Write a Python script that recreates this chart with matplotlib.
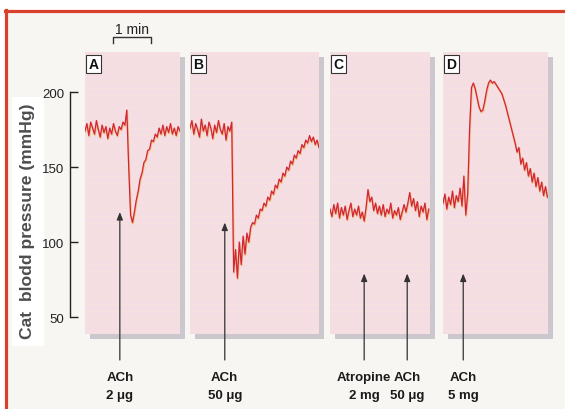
import numpy as np
import matplotlib
matplotlib.use("Agg")
import matplotlib.pyplot as plt
import matplotlib.transforms as mtransforms
from matplotlib.patches import Rectangle
from matplotlib.lines import Line2D

plt.rcParams['font.family'] = ['Liberation Sans', 'DejaVu Sans']

# ---------------- data (mmHg, sampled every 3 s) ----------------
dt = 3.0
panel_names = ["A", "B", "C", "D"]
panel_spans_s = [150, 204, 158, 166]          # duration shown in each panel (s)

bp_A = [174, 179, 171, 180, 176, 172, 181, 175, 170, 178, 173, 177, 169, 176, 172,
        179, 174, 171, 177, 175, 180, 178,
        188, 150, 118, 113, 120, 128, 134, 142, 146, 153, 155, 161, 162, 168, 167,
        172, 170, 176, 172, 178, 171, 177, 173, 179, 172, 176, 171, 177, 174]

bp_B = [176, 181, 172, 179, 175, 170, 182, 174, 178, 171, 180, 176, 169, 178, 173,
        181, 175, 172, 179, 168, 177, 174, 180,
        80, 95, 76, 100, 85, 104, 92, 106, 100,
        110, 113, 112, 118, 116, 122, 121, 126, 124, 130, 128, 134, 132, 138, 136,
        142, 140, 146, 144, 150, 148, 154, 152, 158, 156, 161, 159, 165, 163, 168,
        166, 171, 167, 170, 165, 168, 163]

bp_C = [122, 117, 125, 119, 126, 116, 123, 118, 124, 115, 121, 126, 117, 122, 118,
        124, 116, 120, 114, 123, 135, 127, 130, 121, 126, 119, 124, 118, 125, 117,
        122, 119, 126, 116, 121, 118, 123, 115, 120, 125, 120, 126, 133, 124, 129,
        121, 127, 117, 124, 120, 126, 115, 122]

bp_D = [126, 132, 122, 130, 125, 134, 123, 131, 127, 136, 124, 144, 118, 132, 175,
        203, 206, 202, 196, 190, 187, 188, 194, 201, 206, 208, 206, 207, 205, 203,
        201, 199, 195, 191, 186, 181, 176, 171, 166, 160, 163, 152, 156, 148, 153,
        144, 149, 140, 146, 137, 143, 134, 140, 131, 137, 130]

traces = [bp_A, bp_B, bp_C, bp_D]

# drug injections: (panel index, time s, arrow tip mmHg, line1, line2)
inj_panel = [0, 1, 2, 2, 3]
inj_time = [55, 55, 54, 122, 32]
inj_tip = [120, 113, 79, 79, 79]
inj_drug = ["ACh", "ACh", "Atropine", "ACh", "ACh"]
inj_dose = ["2 \u03bcg", "50 \u03bcg", "2 mg", "50 \u03bcg", "5 mg"]

y_ticks = [50, 100, 150, 200]

# ---------------- layout helpers (pixels) ----------------
W, H = 565, 410
fig = plt.figure(figsize=(W / 100, H / 100), dpi=100)
fig.patch.set_facecolor("white")

def fx(px):
    return px / W

def fy(py):
    return 1 - py / H

# off-white page inside the red frame
fig.add_artist(Rectangle((fx(6), 0), 1 - fx(6), fy(12), transform=fig.transFigure,
                         facecolor="#f7f6f3", edgecolor="none", zorder=-5))
# red frame
fig.add_artist(Line2D([fx(5), 1], [fy(11.5), fy(11.5)], transform=fig.transFigure,
                      color="#d8402c", lw=2.3, zorder=-4))
fig.add_artist(Line2D([fx(5.8), fx(5.8)], [fy(10.5), 0], transform=fig.transFigure,
                      color="#d8402c", lw=2.3, zorder=-4))

YMIN, YMAX = 38.7, 226.7
panel_px = [(85, 180), (190, 319), (330, 430), (443, 548)]
top_px, bot_px = 53, 335

axes = []
for i, (x0, x1) in enumerate(panel_px):
    # drop shadow
    fig.add_artist(Rectangle((fx(x0 + 5), fy(bot_px + 5)), fx(x1 - x0), (bot_px - top_px) / H,
                             transform=fig.transFigure, facecolor="#cbc7cc",
                             edgecolor="none", zorder=0.5))
    ax = fig.add_axes([fx(x0), fy(bot_px), fx(x1 - x0), (bot_px - top_px) / H])
    ax.set_zorder(1)
    ax.set_facecolor("#f5dee3")
    ax.set_xlim(0, panel_spans_s[i])
    ax.set_ylim(YMIN, YMAX)
    for s in ax.spines.values():
        s.set_visible(False)
    ax.set_xticks([])
    ax.set_yticks([])
    # faint paper stripes
    for yy in np.arange(0.01, 1.0, 0.024):
        ax.axhline(yy * (YMAX - YMIN) + YMIN, color="#f7e4dc", lw=0.6, alpha=0.6, zorder=0)
    # trace
    vals = np.array(traces[i], dtype=float)
    t = np.arange(len(vals)) * dt
    off = mtransforms.offset_copy(ax.transData, fig=fig, x=0.4, y=-0.9, units="dots")
    ax.plot(t, vals, color="#e9b048", lw=1.4, alpha=0.65, transform=off, zorder=2)
    ax.plot(t, vals, color="#d4243c", lw=0.9, zorder=3)
    # panel letter
    ax.annotate(panel_names[i], xy=(0, 1), xycoords="axes fraction",
                xytext=(8.5, -5), textcoords="offset pixels", ha="center", va="top",
                fontsize=10, fontweight="bold", color="#111111",
                bbox=dict(boxstyle="square,pad=0.15", facecolor="white",
                          edgecolor="#333333", lw=0.8))
    axes.append(ax)

# white box behind y label
fig.add_artist(Rectangle((fx(12), fy(347)), fx(32), (347 - 98) / H,
                         transform=fig.transFigure, facecolor="white",
                         edgecolor="none", zorder=0.6))
fig.text(fx(28), fy(221), "Cat  blodd pressure (mmHg)", rotation=90, ha="center",
         va="center", fontsize=12.6, fontweight="bold", color="#4d4d4d", zorder=2)

# y scale axis
yax = fig.add_axes([fx(70), fy(bot_px), 0.001, (bot_px - top_px) / H])
yax.set_zorder(2)
yax.set_ylim(YMIN, YMAX)
yax.patch.set_visible(False)
for k in ["top", "right", "bottom"]:
    yax.spines[k].set_visible(False)
yax.spines["left"].set_bounds(y_ticks[0], y_ticks[-1])
yax.spines["left"].set_color("#222222")
yax.spines["left"].set_linewidth(1.0)
yax.set_xticks([])
yax.set_yticks(y_ticks)
yax.tick_params(axis="y", direction="in", length=6, width=1.0, color="#222222",
                labelsize=9.5, labelcolor="#222222", pad=4)

# 1 min scale bar
fig.add_artist(Line2D([fx(113), fx(113), fx(151), fx(151)],
                      [fy(44), fy(38), fy(38), fy(44)], transform=fig.transFigure,
                      color="#333333", lw=1.0))
fig.text(fx(132), fy(30), "1 min", ha="center", va="center", fontsize=10,
         color="#222222")

# injection arrows and labels
for p, tt, tip, drug, dose in zip(inj_panel, inj_time, inj_tip, inj_drug, inj_dose):
    ax = axes[p]
    blend = mtransforms.blended_transform_factory(ax.transData, fig.transFigure)
    ax.annotate("", xy=(tt, tip), xycoords="data",
                xytext=(tt, fy(361)), textcoords=blend,
                arrowprops=dict(arrowstyle="-|>,head_length=0.45,head_width=0.18",
                                color="#333333", lw=0.9, shrinkA=0, shrinkB=0),
                annotation_clip=False)
    ax.text(tt, fy(378), drug, transform=blend, ha="center", va="center",
            fontsize=9.5, fontweight="bold", color="#1a1a1a", clip_on=False)
    ax.text(tt, fy(396), dose, transform=blend, ha="center", va="center",
            fontsize=9.5, fontweight="bold", color="#1a1a1a", clip_on=False)

fig.savefig("out.png", dpi=100)
